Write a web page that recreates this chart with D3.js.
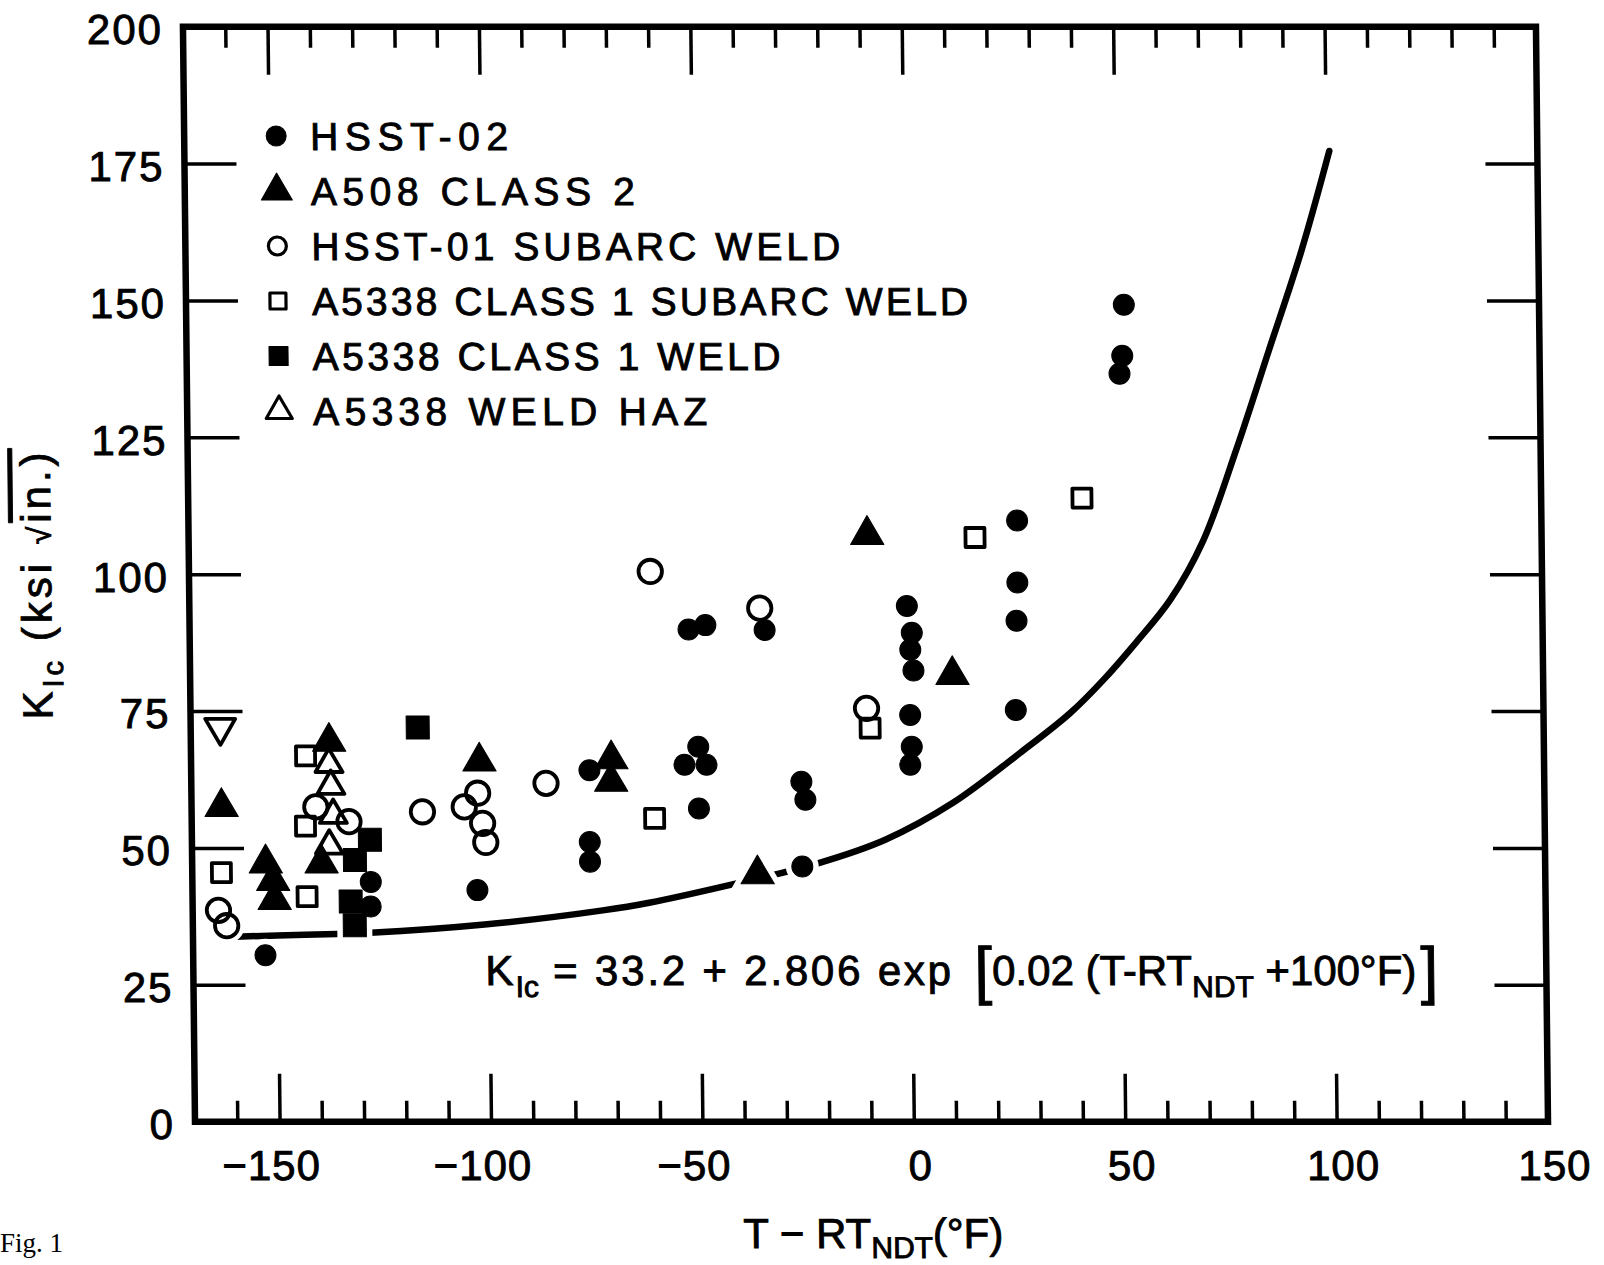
<!DOCTYPE html>
<html>
<head>
<meta charset="utf-8">
<script src="https://cdn.jsdelivr.net/npm/d3@7"></script>
<style>
  html, body { margin: 0; padding: 0; background: #fff; }
  svg { display: block; }
</style>
</head>
<body>
<div id="chart"></div>
<script>
// values: [T - RT_NDT (°F), K_Ic (ksi√in.)]
const hsst02 = [
  [-152.9, 30.4],
  [-127.8, 43.8], [-127.9, 39.3],
  [-102.6, 42.3],
  [-75.8, 64.2], [-75.9, 51.1], [-75.9, 47.5],
  [-52.0, 89.9], [-48.0, 90.7], [-34.0, 89.8],
  [-50.0, 68.5], [-53.3, 65.2], [-48.1, 65.2], [-50.0, 57.2],
  [-25.7, 62.1], [-24.8, 58.8], [-25.7, 46.6],
  [-0.3, 94.2], [0.8, 89.3], [0.4, 86.2], [1.1, 82.4], [0.2, 74.3], [0.5, 68.5], [0.1, 65.2],
  [26.0, 109.8], [25.9, 98.5], [25.6, 91.5], [25.2, 75.2],
  [51.8, 149.2], [51.3, 139.9], [50.6, 136.6],
];
const a508 = [
  [-162.9, 57.5], [-152.6, 47.2], [-150.9, 44.0], [-150.6, 40.5],
  [-137.3, 69.4], [-139.4, 47.2], [-101.8, 65.8],
  [-70.6, 66.2], [-70.7, 62.1], [-36.3, 45.2], [-9.5, 107.2], [10.3, 81.6],
];
const hsst01 = [
  [-163.9, 38.6], [-162.0, 35.8], [-140.6, 57.5], [-132.8, 54.8], [-115.4, 56.6],
  [-102.3, 60.0], [-105.5, 57.5], [-101.2, 54.5], [-100.5, 51.0],
  [-86.1, 61.8], [-60.9, 100.5], [-35.1, 93.8], [-10.1, 75.5],
];
const a533bSubarc = [
  [-163.1, 45.5], [-142.9, 66.8], [-143.1, 54.0], [-142.9, 41.1],
  [-60.5, 55.4], [-9.3, 71.9], [16.0, 106.7], [41.4, 113.9],
];
const a533bWeld = [
  [-116.3, 72.0], [-127.9, 51.5], [-131.5, 47.8], [-132.6, 40.2], [-131.7, 35.9],
];
const a533bHaz = [
  [-137.4, 65.3], [-137.0, 61.3], [-136.5, 56.0], [-137.5, 50.4],
];
const unlabeled = [[-163.0, 72.0]];

// the drawn lower-bound curve
const lowerBound = [
  [-160, 33.8], [-150, 34.0], [-136, 34.3], [-128, 34.5], [-101, 36.0],
  [-73, 38.6], [-62, 40.0], [-42, 43.4], [-22, 47.2], [-6, 51.5],
  [10, 58.2], [26, 67.3], [38, 74.6], [46, 80.7], [54, 87.7], [62, 95.3],
  [70, 106.2], [78, 122.7], [86, 140.9], [94, 159.2], [100.8, 177.3],
];

const legendLabels = [
  'HSST-02',
  'A508 CLASS 2',
  'HSST-01 SUBARC WELD',
  'A5338 CLASS 1 SUBARC WELD',
  'A5338 CLASS 1 WELD',
  'A5338 WELD HAZ',
];

const xDomain = [-170, 150];
const yDomain = [0, 200];
const xMajorTicks = [-150, -100, -50, 0, 50, 100, 150];
const xMinorTicks = [-160, -140, -130, -120, -110, -90, -80, -70, -60, -40, -30, -20, -10,
  10, 20, 30, 40, 60, 70, 80, 90, 110, 120, 130, 140];
const yTicks = [0, 25, 50, 75, 100, 125, 150, 175, 200];

// ---------------------------------------------------------------

const width = 1604;
const height = 1265;
const baseY = 1121.7;
const shear = 0.63; // the scanned page leans a little
const font = '"Liberation Sans", Arial, sans-serif';

// lettering widths in the scan (px), used to stretch the legend text
const legendTextWidths = [198, 324, 529, 656, 468, 394];

const x = d3.scaleLinear().domain(xDomain).range([195, 1548]);
const y = d3.scaleLinear().domain(yDomain).range([baseY, 26.7]);

const series = [
  { data: hsst02, type: d3.symbolCircle, size: 346, filled: true, legendSize: 314 },
  { data: a508, type: d3.symbolTriangle, size: 480, filled: true, legendSize: 416 },
  { data: hsst01, type: d3.symbolCircle, size: 430, filled: false, legendSize: 254 },
  { data: a533bSubarc, type: d3.symbolSquare, size: 361, filled: false, legendSize: 256 },
  { data: a533bWeld, type: d3.symbolSquare, size: 529, filled: true, legendSize: 361 },
  { data: a533bHaz, type: d3.symbolTriangle, size: 316, filled: false, legendSize: 293 },
  { data: unlabeled, type: d3.symbolTriangle, size: 390, filled: false, flip: true },
];

const svg = d3.select('#chart')
  .append('svg')
  .attr('width', width)
  .attr('height', height)
  .attr('viewBox', [0, 0, width, height])
  .style('font-family', font);

svg.append('rect')
  .attr('width', width)
  .attr('height', height)
  .attr('fill', '#fff');

const g = svg.append('g')
  .attr('transform', `translate(0,${baseY}) skewX(${shear}) translate(0,${-baseY})`);

// curve
const line = d3.line()
  .x((d) => x(d[0]))
  .y((d) => y(d[1]))
  .curve(d3.curveCatmullRom.alpha(0.5));

g.append('path')
  .datum(lowerBound)
  .attr('d', line)
  .attr('fill', 'none')
  .attr('stroke', '#000')
  .attr('stroke-width', 6.5)
  .attr('stroke-linecap', 'round');

// white halos break the curve where a symbol sits on it
const halos = g.append('g');
series.forEach((s) => {
  halos.selectAll(null)
    .data(s.data)
    .join('path')
    .attr('transform', (d) => `translate(${x(d[0])},${y(d[1])})${s.flip ? ' rotate(180)' : ''}`)
    .attr('d', d3.symbol().type(s.type).size(s.size))
    .attr('fill', '#fff')
    .attr('stroke', '#fff')
    .attr('stroke-width', 12);
});

// frame
g.append('rect')
  .attr('x', x(xDomain[0]))
  .attr('y', y(yDomain[1]))
  .attr('width', x(xDomain[1]) - x(xDomain[0]))
  .attr('height', y(yDomain[0]) - y(yDomain[1]))
  .attr('fill', 'none')
  .attr('stroke', '#000')
  .attr('stroke-width', 6.5);

const styleTicks = (sel) => {
  sel.select('.domain').remove();
  sel.selectAll('.tick line').attr('stroke', '#000').attr('stroke-width', 3.5);
  sel.selectAll('.tick text')
    .attr('fill', '#000')
    .attr('stroke', '#000')
    .attr('stroke-width', 0.9)
    .attr('font-family', font)
    .attr('font-size', 42);
};

const fmt = (d) => (d < 0 ? `\u2212${Math.abs(d)}` : `${d}`);

// bottom
g.append('g')
  .attr('transform', `translate(0,${y(0)})`)
  .call(d3.axisBottom(x).tickValues(xMajorTicks).tickSizeInner(-48).tickSizeOuter(0)
    .tickPadding(28).tickFormat(fmt))
  .call(styleTicks)
  .call((a) => a.selectAll('.tick text')
    .attr('dx', (d) => (d < 0 ? -9 : 6))
    .attr('letter-spacing', 1));

g.append('g')
  .attr('transform', `translate(0,${y(0)})`)
  .call(d3.axisBottom(x).tickValues(xMinorTicks).tickSizeInner(-21).tickSizeOuter(0).tickFormat(''))
  .call(styleTicks);

// top
g.append('g')
  .attr('transform', `translate(0,${y(200)})`)
  .call(d3.axisTop(x).tickValues(xMajorTicks).tickSizeInner(-48).tickSizeOuter(0).tickFormat(''))
  .call(styleTicks);

g.append('g')
  .attr('transform', `translate(0,${y(200)})`)
  .call(d3.axisTop(x).tickValues(xMinorTicks).tickSizeInner(-21).tickSizeOuter(0).tickFormat(''))
  .call(styleTicks);

// left and right
g.append('g')
  .attr('transform', `translate(${x(xDomain[0])},0)`)
  .call(d3.axisLeft(y).tickValues(yTicks).tickSizeInner(-52).tickSizeOuter(0).tickPadding(20))
  .call(styleTicks)
  .call((a) => a.selectAll('.tick text').attr('dy', '0.4em').attr('letter-spacing', 2));

g.append('g')
  .attr('transform', `translate(${x(xDomain[1])},0)`)
  .call(d3.axisRight(y).tickValues(yTicks).tickSizeInner(-52).tickSizeOuter(0).tickFormat(''))
  .call(styleTicks);

// markers
series.forEach((s) => {
  g.append('g')
    .selectAll('path')
    .data(s.data)
    .join('path')
    .attr('transform', (d) => `translate(${x(d[0])},${y(d[1])})${s.flip ? ' rotate(180)' : ''}`)
    .attr('d', d3.symbol().type(s.type).size(s.size))
    .attr('fill', s.filled ? '#000' : 'none')
    .attr('stroke', '#000')
    .attr('stroke-width', s.filled ? 1 : 3.8)
    .attr('stroke-linejoin', 'round');
});

// legend
const legend = g.append('g')
  .selectAll('g')
  .data(legendLabels)
  .join('g')
  .attr('transform', (_, i) => `translate(287,${136 + i * 55})`);

legend.append('path')
  .attr('d', (_, i) => d3.symbol().type(series[i].type).size(series[i].legendSize)())
  .attr('fill', (_, i) => (series[i].filled ? '#000' : 'none'))
  .attr('stroke', '#000')
  .attr('stroke-width', (_, i) => (series[i].filled ? 1 : 3.2))
  .attr('stroke-linejoin', 'round');

legend.append('text')
  .attr('x', 34)
  .attr('y', 14)
  .attr('font-size', 39)
  .attr('textLength', (_, i) => legendTextWidths[i])
  .attr('lengthAdjust', 'spacing')
  .attr('stroke', '#000')
  .attr('stroke-width', 0.9)
  .text((d) => d);

// equation
const eq = g.append('text')
  .attr('x', 487)
  .attr('y', 985)
  .attr('font-size', 42)
  .attr('stroke', '#000')
  .attr('stroke-width', 0.9);
eq.append('tspan').attr('letter-spacing', 2).text('K');
eq.append('tspan').attr('font-size', 30).attr('dy', 12).text('Ic');
eq.append('tspan').attr('dy', -12).attr('letter-spacing', 2.8).text(' = 33.2 + 2.806 exp ');
eq.append('tspan').attr('font-size', 64).attr('dy', 7).attr('dx', 6).text('[');
eq.append('tspan').attr('dy', -7).text('0.02 (T-RT');
eq.append('tspan').attr('font-size', 30).attr('dy', 12).text('NDT');
eq.append('tspan').attr('dy', -12).text(' +100\u00b0F)');
eq.append('tspan').attr('font-size', 64).attr('dy', 7).attr('dx', 4).text(']');

// axis titles
const xTitle = g.append('text')
  .attr('x', 742)
  .attr('y', 1248)
  .attr('font-size', 42)
  .attr('stroke', '#000')
  .attr('stroke-width', 0.9);
xTitle.append('tspan').text('T \u2212 RT');
xTitle.append('tspan').attr('font-size', 30).attr('dy', 10).text('NDT');
xTitle.append('tspan').attr('dy', -10).text('(\u00b0F)');

const yTitle = g.append('text')
  .attr('transform', 'translate(57,584) rotate(-90)')
  .attr('text-anchor', 'middle')
  .attr('font-size', 42)
  .attr('letter-spacing', 4)
  .attr('stroke', '#000')
  .attr('stroke-width', 0.9);
yTitle.append('tspan').text('K');
yTitle.append('tspan').attr('font-size', 29).attr('dy', 11).text('Ic');
yTitle.append('tspan').attr('dy', -11).text(' (ksi ');
yTitle.append('tspan').attr('font-size', 32).text('\u221a');
yTitle.append('tspan').attr('text-decoration', 'overline').text('in.)');

svg.append('text')
  .attr('x', 0)
  .attr('y', 1252)
  .style('font-family', '"Liberation Serif", "Times New Roman", serif')
  .attr('font-size', 27)
  .text('Fig. 1');
</script>
</body>
</html>
